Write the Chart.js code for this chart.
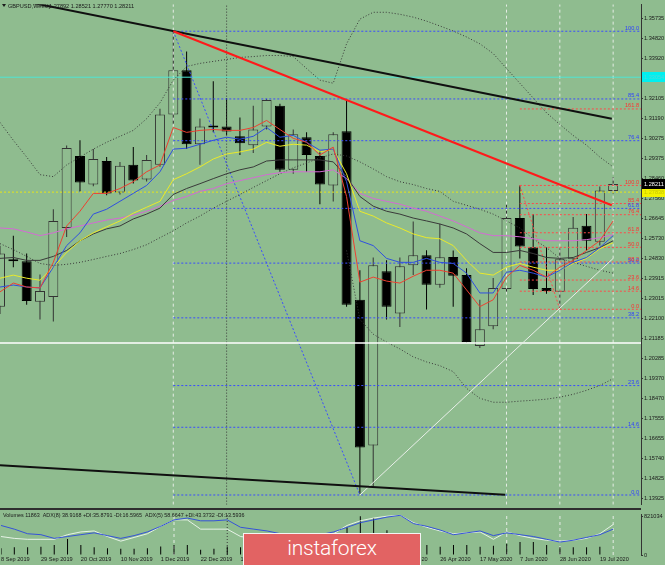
<!DOCTYPE html>
<html><head><meta charset="utf-8">
<script src="https://cdn.jsdelivr.net/npm/chart.js@4.4.1/dist/chart.umd.min.js"></script>
<style>
html,body{margin:0;padding:0;background:#8fbc8f;width:665px;height:565px;overflow:hidden;position:relative}
#main{position:absolute;left:0;top:0}
#ind{position:absolute;left:0;top:510px}
#sep{position:absolute;left:0;top:508px;width:641px;height:2px;background:#2e2e2e}
#wm{position:absolute;left:243px;top:533px;width:178px;height:40px;background:#e26363;border:1px solid #f4f4f4;box-sizing:border-box;color:#fff;font-family:Roboto,'Open Sans',sans-serif;font-weight:300;font-size:21px;text-align:center;line-height:29px;letter-spacing:-0.2px}
</style></head>
<body>
<canvas id="main" width="665" height="509"></canvas>
<div id="sep"></div>
<canvas id="ind" width="665" height="55"></canvas>
<div id="wm">instaforex</div>
<script>
// ---------- DATA ----------
const symbolTitle = 'GBPUSD,Weekly';
const ohlcTitle = '1.27892 1.28521 1.27770 1.28211';
const indicatorTitle = 'Volumes 11863  ADX(8) 38.9168 +DI:35.8791 -DI:16.5965  ADX(5) 58.6647 +DI:43.3732 -DI:13.5936';

// weekly candles, index 0 = week of 8 Sep 2019
const openP  = [1.2264,1.2478,1.2470,1.2286,1.2308,1.2621,1.2948,1.2818,1.2925,1.2782,1.2908,1.2841,1.2908,1.3136,1.3337,1.3001,1.3082,1.3082,1.3037,1.2997,1.3082,1.3176,1.2885,1.3033,1.2948,1.2814,1.3060,1.2295,1.1634,1.2425,1.2233,1.2452,1.2497,1.2363,1.2489,1.2407,1.2085,1.2175,1.2344,1.2666,1.2533,1.2349,1.2331,1.2479,1.2631,1.2559,1.27892];
const highP  = [1.2540,1.2586,1.2505,1.2410,1.2706,1.2995,1.3019,1.2979,1.2943,1.2921,1.2988,1.2952,1.3162,1.3515,1.3422,1.3118,1.3287,1.3211,1.3122,1.3176,1.3207,1.3185,1.3068,1.3055,1.2970,1.3055,1.3202,1.2429,1.2487,1.2474,1.2487,1.2650,1.2520,1.2640,1.2519,1.2438,1.2295,1.2394,1.2729,1.2814,1.2684,1.2532,1.2528,1.2671,1.2684,1.2809,1.28521];
const lowP   = [1.2230,1.2443,1.2273,1.2205,1.2197,1.2580,1.2787,1.2810,1.2769,1.2773,1.2823,1.2832,1.2899,1.3091,1.2979,1.2908,1.3055,1.3042,1.2952,1.2961,1.3068,1.2876,1.2867,1.2876,1.2729,1.2741,1.2264,1.1415,1.1446,1.2206,1.2171,1.2407,1.2251,1.2350,1.2264,1.2100,1.2076,1.2161,1.2326,1.2483,1.2317,1.2322,1.2255,1.2461,1.2519,1.2541,1.27770];
const closeP = [1.2505,1.2470,1.2290,1.2335,1.2653,1.2984,1.2827,1.2934,1.2778,1.2903,1.2836,1.2930,1.3136,1.3337,1.3001,1.3082,1.3077,1.3059,1.3006,1.3068,1.3202,1.2885,1.3046,1.2952,1.2818,1.3046,1.2273,1.1625,1.2452,1.2264,1.2447,1.2497,1.2363,1.2488,1.2404,1.2103,1.2161,1.2349,1.2666,1.2537,1.2344,1.2335,1.2479,1.2622,1.2563,1.2791,1.28211];

// moving averages
const maRed     = [1.2331,1.2371,1.2353,1.2349,1.2465,1.2630,1.2697,1.2778,1.2778,1.2800,1.2831,1.2876,1.2907,1.3077,1.3055,1.3064,1.3068,1.3064,1.3064,1.3077,1.3109,1.3068,1.3028,1.3010,1.2952,1.2988,1.2764,1.2375,1.2398,1.2380,1.2371,1.2402,1.2429,1.2429,1.2416,1.2340,1.2264,1.2295,1.2398,1.2451,1.2429,1.2398,1.2443,1.2474,1.2519,1.2563,1.2653];
const maBlue    = [1.2353,1.2362,1.2353,1.2349,1.2443,1.2541,1.2599,1.2684,1.2706,1.2742,1.2778,1.2814,1.2876,1.2979,1.2983,1.3001,1.3019,1.3033,1.3024,1.3037,1.3077,1.3033,1.3041,1.3010,1.2974,1.2979,1.2831,1.2563,1.2541,1.2483,1.2465,1.2465,1.2483,1.2465,1.2460,1.2416,1.2326,1.2326,1.2420,1.2429,1.2416,1.2398,1.2429,1.2465,1.2487,1.2532,1.2586];
const maYellow  = [1.2393,1.2407,1.2393,1.2384,1.2443,1.2510,1.2563,1.2599,1.2626,1.2653,1.2688,1.2715,1.2742,1.2840,1.2867,1.2898,1.2934,1.2957,1.2966,1.2979,1.3010,1.2992,1.3001,1.2997,1.2966,1.2979,1.2867,1.2697,1.2675,1.2644,1.2621,1.2594,1.2577,1.2572,1.2541,1.2474,1.2416,1.2407,1.2443,1.2460,1.2443,1.2429,1.2429,1.2460,1.2483,1.2527,1.2554];
const maDark    = [1.2483,1.2487,1.2474,1.2474,1.2492,1.2519,1.2563,1.2594,1.2617,1.2630,1.2662,1.2684,1.2711,1.2773,1.2800,1.2822,1.2845,1.2867,1.2885,1.2898,1.2925,1.2930,1.2930,1.2930,1.2930,1.2921,1.2854,1.2764,1.2720,1.2697,1.2684,1.2666,1.2653,1.2639,1.2621,1.2594,1.2550,1.2510,1.2510,1.2519,1.2505,1.2487,1.2483,1.2487,1.2510,1.2532,1.2563];
const maMagenta = [1.2621,1.2617,1.2603,1.2586,1.2599,1.2617,1.2630,1.2644,1.2657,1.2666,1.2679,1.2697,1.2720,1.2746,1.2764,1.2787,1.2800,1.2822,1.2836,1.2849,1.2863,1.2872,1.2876,1.2876,1.2876,1.2885,1.2845,1.2778,1.2755,1.2742,1.2729,1.2711,1.2697,1.2675,1.2653,1.2626,1.2599,1.2586,1.2586,1.2581,1.2572,1.2563,1.2563,1.2563,1.2568,1.2577,1.2590];

// dotted envelopes
const bandUpper = [1.3100,1.3019,1.2943,1.2863,1.2854,1.2907,1.2943,1.2979,1.3010,1.3037,1.3064,1.3117,1.3189,1.3292,1.3354,1.3368,1.3377,1.3386,1.3395,1.3399,1.3404,1.3404,1.3399,1.3345,1.3292,1.3278,1.3457,1.3569,1.3600,1.3600,1.3591,1.3578,1.3560,1.3538,1.3515,1.3488,1.3457,1.3413,1.3345,1.3278,1.3211,1.3144,1.3091,1.3041,1.2997,1.2943,1.2898];
const bandSlow  = [1.2550,1.2523,1.2492,1.2460,1.2451,1.2456,1.2465,1.2478,1.2492,1.2505,1.2523,1.2545,1.2577,1.2608,1.2644,1.2675,1.2711,1.2742,1.2773,1.2805,1.2836,1.2867,1.2894,1.2916,1.2939,1.2957,1.2948,1.2921,1.2889,1.2854,1.2831,1.2818,1.2800,1.2787,1.2742,1.2724,1.2706,1.2684,1.2653,1.2621,1.2572,1.2532,1.2483,1.2465,1.2447,1.2429,1.2416];
const bandLowerStart = 26;
const bandLower = [1.2519,1.2206,1.2139,1.2103,1.2072,1.2036,1.2013,1.1996,1.1969,1.1893,1.1848,1.1830,1.1830,1.1835,1.1839,1.1844,1.1853,1.1866,1.1884,1.1906,1.1937];

// indicator window
const volumes  = [143000,162000,162000,176000,209000,338000,209000,162000,143000,131000,131000,143000,182000,209000,209000,111000,131000,182000,162000,160000,170000,230000,200000,190000,260000,420000,586000,821034,782000,522000,400000,300000,209000,176000,209000,209000,176000,195000,240000,274000,274000,209000,162000,162000,162000,176000,11863];
const adxBlue  = [72.7,63.6,52.3,50.0,40.9,45.5,50.0,54.5,47.7,40.9,47.7,56.8,70.5,86.4,90.9,84.1,84.1,86.4,68.2,63.6,59.1,52.3,47.7,47.7,50.0,56.8,68.2,79.5,86.4,93.2,97.7,77.3,70.5,61.4,50.0,54.5,59.1,47.7,54.5,50.0,45.5,38.6,31.8,36.4,43.2,50.0,63.6];
const adxWhite = [45.5,40.9,38.6,38.6,38.6,50.0,56.8,59.1,45.5,34.1,43.2,52.3,70.5,86.4,86.4,63.6,63.6,63.6,45.5,40.9,38.6,40.9,40.9,43.2,47.7,52.3,72.7,84.1,90.9,95.5,97.7,79.5,68.2,59.1,52.3,54.5,56.8,38.6,56.8,47.7,40.9,36.4,34.1,36.4,40.9,52.3,75.0];

// tick labels
const priceTicks = [1.35735,1.34820,1.33920,1.33005,1.32105,1.31190,1.30275,1.29375,1.28460,1.27560,1.26645,1.25730,1.24830,1.23915,1.23015,1.22100,1.21185,1.20285,1.19370,1.18470,1.17555,1.16655,1.15740,1.14825,1.13925];
const dateTickIdx = [0,3,6,9,12,15,18,21,24,27,30,33,36,39,42,45];
const dateTickLabels = ['8 Sep 2019','29 Sep 2019','20 Oct 2019','10 Nov 2019','1 Dec 2019','22 Dec 2019','12 Jan 2020','2 Feb 2020','23 Feb 2020','15 Mar 2020','5 Apr 2020','26 Apr 2020','17 May 2020','7 Jun 2020','28 Jun 2020','19 Jul 2020'];
const volumeTicks = [0, 821034];

// fibonacci retracements
const fibBlue = {start:13, high:1.3514, low:1.1409, end:27};
const fibBlueLevels = [100.0,85.4,76.4,61.8,50.0,38.2,23.6,14.6,0.0];
const fibRed = {start:39, high:1.2814, low:1.2252, end:42};
const fibRedLevels = [161.8,100.0,85.4,76.4,61.8,50.0,38.2,23.6,14.6,0.0];

// trend lines [index, price]
const trendUpperBlack = [[0,1.3672],[45.9,1.3117]];
const trendLowerBlack = [[0,1.1544],[37.9,1.1410]];
const trendRed        = [[13,1.3514],[45.9,1.2724]];
const trendLight      = [[27,1.1409],[46,1.2483]];

// horizontal levels
const levelCyan = 1.33054;
const levelYellow = 1.27838;
const levelWhite = 1.2099;
const lastPrice = 1.28211;

// vertical separators (week index)
const vLinesLight = [13,38,42,46];
const vLinesDark = [17];

// ---------- CHART ----------
const X_MAX = 48.09, Y_MIN = 1.13652, Y_MAX = 1.36360;
const BG = '#8fbc8f';
const FONT = 'Liberation Sans';
const idx = openP.map((_, i) => i);
const pts = arr => arr.map((v, i) => ({x:i, y:v}));
const seg = p => p.map(([x, y]) => ({x, y}));
const isBull = i => closeP[i] >= openP[i];

function line(data, color, width, dash, order, extra) {
  return Object.assign({type:'line', data, borderColor:color, borderWidth:width, borderDash:dash||[], pointRadius:0, pointHoverRadius:0, fill:false, tension:0, order}, extra||{});
}

const ds = [];
ds.push({type:'bar', data: idx.map(i => ({x:i, y:[lowP[i], highP[i]]})), backgroundColor: idx.map(i => isBull(i) ? '#333' : '#000'), barThickness:1, grouped:false, order:100, inflateAmount:0});
ds.push({type:'bar', data: idx.map(i => ({x:i, y:[openP[i], closeP[i]]})), backgroundColor: idx.map(i => isBull(i) ? BG : '#000'), borderColor: idx.map(i => isBull(i) ? '#333' : '#000'), borderWidth:1, borderSkipped:false, minBarLength:2, barThickness:10, grouped:false, order:99, inflateAmount:0});
ds.push(line([{x:0,y:levelCyan},{x:X_MAX,y:levelCyan}], '#4fe6d6', 1, [], 70));
ds.push(line([{x:0,y:levelYellow},{x:X_MAX,y:levelYellow}], '#e6e619', 1, [2,2], 70));
ds.push(line([{x:0,y:levelWhite},{x:X_MAX,y:levelWhite}], '#ffffff', 1.6, [], 30));
fibBlueLevels.forEach(r => { const p = fibBlue.low + r/100*(fibBlue.high-fibBlue.low); ds.push(line([{x:fibBlue.start,y:p},{x:X_MAX,y:p}], '#3a4cff', 1, [2,2], 60)); });
fibRedLevels.forEach(r => { const p = fibRed.low + r/100*(fibRed.high-fibRed.low); ds.push(line([{x:fibRed.start,y:p},{x:X_MAX,y:p}], '#ff4a4a', 1, [2,2], 60)); });
ds.push(line([{x:fibBlue.start,y:fibBlue.high},{x:fibBlue.end,y:fibBlue.low}], '#3a4cff', 1, [2,2], 60));
ds.push(line([{x:fibRed.start,y:fibRed.high},{x:fibRed.end,y:fibRed.low}], '#ff4a4a', 1, [2,2], 60));
vLinesLight.forEach(v => ds.push(line([{x:v,y:Y_MIN},{x:v,y:Y_MAX}], '#e4ece4', 1, [3,3], 80)));
vLinesDark.forEach(v => ds.push(line([{x:v,y:Y_MIN},{x:v,y:Y_MAX}], '#3c3c3c', 1, [1,2], 80)));
ds.push(line(pts(bandUpper), '#3a3a3a', 1, [1,2], 45));
ds.push(line(pts(bandSlow), '#3a3a3a', 1, [1,2], 45));
ds.push(line(bandLower.map((v,i)=>({x:i+bandLowerStart,y:v})), '#3a3a3a', 1, [1,2], 45));
ds.push(line(pts(maMagenta), '#d46ad4', 1, [], 44));
ds.push(line(pts(maDark), '#3a3a3a', 1, [], 43));
ds.push(line(pts(maYellow), '#eaea2a', 1, [], 42));
ds.push(line(pts(maBlue), '#2f4fe0', 1, [], 41));
ds.push(line(pts(maRed), '#ee4030', 1, [], 40));
ds.push(line(seg(trendLight), '#e8eee8', 1, [], 20));
ds.push(line(seg(trendRed), '#ff1a1a', 2, [], 10));
ds.push(line(seg(trendUpperBlack), '#101010', 2, [], 10));
ds.push(line(seg(trendLowerBlack), '#101010', 2, [], 10));

const mainText = {
  id:'mainText',
  afterDraw(chart) {
    const c = chart.ctx, y = chart.scales.y, a = chart.chartArea;
    c.save();
    c.font = '5.6px ' + FONT; c.textAlign = 'right'; c.textBaseline = 'middle';
    fibBlueLevels.forEach(r => { const p = fibBlue.low + r/100*(fibBlue.high-fibBlue.low); c.fillStyle = '#2f40ff'; c.fillText(r.toFixed(1), a.right - 2, y.getPixelForValue(p) - 3); });
    fibRedLevels.forEach(r => { const p = fibRed.low + r/100*(fibRed.high-fibRed.low); c.fillStyle = '#ff3030'; c.fillText(r.toFixed(1), a.right - 2, y.getPixelForValue(p) - 3); });
    c.fillStyle = '#1a1a1a';
    c.beginPath(); c.moveTo(2,4); c.lineTo(6,4); c.lineTo(4,7); c.closePath(); c.fill();
    c.textAlign = 'left'; c.font = '5.6px ' + FONT;
    c.fillText(symbolTitle, 8, 6);
    c.fillText(ohlcTitle, 49, 6);
    const box = (p, bg, fg) => { const py = Math.round(y.getPixelForValue(p)); c.fillStyle = bg; c.fillRect(a.right + 1, py - 5, 24, 10); c.fillStyle = fg; c.textAlign = 'left'; c.fillText(p.toFixed(5), a.right + 3, py); };
    box(levelCyan, '#00f0f0', '#4fd8d8');
    box(levelYellow, '#f2f200', '#c8c800');
    box(lastPrice, '#000000', '#ffffff');
    c.restore();
  }
};

new Chart(document.getElementById('main'), {
  type:'bar',
  data:{datasets:ds},
  options:{
    responsive:false, animation:false, devicePixelRatio:1, events:[],
    layout:{padding:{left:0,right:0,top:0,bottom:1}},
    plugins:{legend:{display:false}, tooltip:{enabled:false}},
    scales:{
      x:{type:'linear', min:0, max:X_MAX, display:false, offset:false},
      y:{type:'linear', position:'right', min:Y_MIN, max:Y_MAX,
        afterFit(s){ s.width = 24; },
        afterBuildTicks(s){ s.ticks = priceTicks.map(v => ({value:v})); },
        ticks:{font:{family:FONT, size:5.6}, color:'#1a1a1a', padding:1, callback:v => v.toFixed(5)},
        grid:{drawOnChartArea:false, drawTicks:true, tickLength:2, color:'#333'},
        border:{display:true, color:'#333', width:1}}
    }
  },
  plugins:[mainText]
});

const ids = [];
vLinesLight.forEach(v => ids.push(line([{x:v,y:0},{x:v,y:100}], '#e4ece4', 1, [3,3], 80, {yAxisID:'yA'})));
vLinesDark.forEach(v => ids.push(line([{x:v,y:0},{x:v,y:100}], '#3c3c3c', 1, [1,2], 80, {yAxisID:'yA'})));
ids.push({type:'bar', data:pts(volumes), yAxisID:'yV', backgroundColor:'#000', barThickness:1, grouped:false, order:70, inflateAmount:0});
ids.push(line(pts(adxWhite), '#e6f2e6', 1, [], 20, {yAxisID:'yA'}));
ids.push(line(pts(adxBlue), '#3552d8', 1, [], 10, {yAxisID:'yA'}));

const indText = {
  id:'indText',
  afterDraw(chart){
    const c = chart.ctx; c.save();
    c.font = '5.4px ' + FONT; c.fillStyle = '#1a1a1a'; c.textAlign = 'left'; c.textBaseline = 'middle';
    c.fillText(indicatorTitle, 3, 5.5);
    c.restore();
  }
};

new Chart(document.getElementById('ind'), {
  type:'bar',
  data:{datasets:ids},
  options:{
    responsive:false, animation:false, devicePixelRatio:1, events:[],
    layout:{padding:{left:0,right:0,top:1,bottom:0}},
    plugins:{legend:{display:false}, tooltip:{enabled:false}},
    scales:{
      x:{type:'linear', min:0, max:X_MAX, offset:false, position:'bottom',
        afterFit(s){ s.height = 10; },
        afterBuildTicks(s){ s.ticks = dateTickIdx.map(v => ({value:v})); },
        ticks:{autoSkip:false, maxRotation:0, minRotation:0, align:'start', padding:1, font:{family:FONT, size:5.6}, color:'#1a1a1a',
          callback:v => dateTickLabels[dateTickIdx.indexOf(v)]},
        grid:{display:false, drawTicks:false}, border:{display:false}},
      yV:{type:'linear', position:'right', min:0, max:860000,
        afterFit(s){ s.width = 24; },
        afterBuildTicks(s){ s.ticks = volumeTicks.map(v => ({value:v})); },
        ticks:{font:{family:FONT, size:5.6}, color:'#1a1a1a', padding:1, callback:v => String(v)},
        grid:{drawOnChartArea:false, drawTicks:true, tickLength:2, color:'#333'},
        border:{display:true, color:'#333', width:1}},
      yA:{type:'linear', display:false, min:0, max:100}
    }
  },
  plugins:[indText]
});
</script>
</body></html>
